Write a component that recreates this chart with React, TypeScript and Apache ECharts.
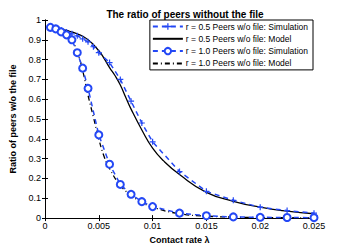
import React, { useEffect, useRef } from "react";
import * as echarts from "echarts";

const sim05X = [0.0005, 0.001, 0.0015, 0.002, 0.0025, 0.003, 0.0035, 0.004, 0.0045, 0.005, 0.006, 0.007, 0.008, 0.009, 0.01, 0.0125, 0.015, 0.0175, 0.02, 0.0225, 0.025];
const sim05Y = [0.962, 0.957, 0.95, 0.94, 0.93, 0.92, 0.905, 0.89, 0.865, 0.835, 0.785, 0.7, 0.59, 0.48, 0.385, 0.235, 0.135, 0.09, 0.055, 0.038, 0.025];

const mod05X = [0.0005, 0.001, 0.002, 0.003, 0.004, 0.005, 0.0055, 0.006, 0.0065, 0.007, 0.0075, 0.008, 0.009, 0.01, 0.011, 0.0125, 0.015, 0.0175, 0.02, 0.0225, 0.025];
const mod05Y = [0.962, 0.958, 0.947, 0.93, 0.9, 0.845, 0.805, 0.76, 0.72, 0.672, 0.61, 0.55, 0.445, 0.353, 0.29, 0.22, 0.13, 0.085, 0.055, 0.035, 0.022];

const sim10X = [0.0005, 0.001, 0.0015, 0.002, 0.0025, 0.003, 0.0035, 0.004, 0.005, 0.006, 0.007, 0.008, 0.009, 0.01, 0.0125, 0.015, 0.0175, 0.02, 0.0225, 0.025];
const sim10Y = [0.963, 0.955, 0.94, 0.925, 0.9, 0.835, 0.757, 0.655, 0.42, 0.272, 0.17, 0.12, 0.083, 0.058, 0.025, 0.012, 0.006, 0.004, 0.003, 0.002];

const mod10X = [0.0005, 0.001, 0.0015, 0.002, 0.0025, 0.003, 0.0035, 0.004, 0.0045, 0.005, 0.0055, 0.006, 0.007, 0.008, 0.009, 0.01, 0.0125, 0.015, 0.0175, 0.02, 0.025];
const mod10Y = [0.962, 0.955, 0.945, 0.93, 0.9, 0.84, 0.745, 0.62, 0.51, 0.4, 0.31, 0.25, 0.165, 0.115, 0.08, 0.055, 0.022, 0.01, 0.005, 0.003, 0.001];

const names = [
  "r = 0.5 Peers w/o file: Simulation",
  "r = 0.5 Peers w/o file: Model",
  "r = 1.0 Peers w/o file: Simulation",
  "r = 1.0 Peers w/o file: Model",
];

const BLUE = "#2448f5";
const FONT = "Liberation Sans";

const zip = (xs: number[], ys: number[]) => xs.map((x, i) => [x, ys[i]]);

export default function App() {
  const ref = useRef<HTMLDivElement>(null);
  useEffect(() => {
    if (!ref.current) return;
    const chart = echarts.init(ref.current, null, { renderer: "svg" });
    const axisCommon = {
      axisLine: { show: true, lineStyle: { color: "#000", width: 1 } },
      axisTick: { show: true, inside: true, length: 3, lineStyle: { color: "#000" } },
      splitLine: { show: false },
    };
    chart.setOption({
      animation: false,
      backgroundColor: "#fff",
      textStyle: { fontFamily: FONT },
      title: {
        text: "The ratio of peers without the file",
        left: 180,
        textAlign: "center",
        top: 4,
        textStyle: { fontSize: 10, fontWeight: "bold", color: "#000", fontFamily: FONT },
      },
      grid: { left: 45, right: 32, top: 20, bottom: 28 },
      legend: {
        data: names,
        orient: "vertical",
        right: 33,
        top: 20,
        align: "left",
        itemWidth: 30,
        itemHeight: 8,
        itemGap: 3.3,
        padding: [2, 5, 2, 2],
        backgroundColor: "#fff",
        borderColor: "#000",
        borderWidth: 1,
        borderRadius: 0,
        textStyle: { fontSize: 8.5, lineHeight: 9, color: "#000", fontFamily: FONT, padding: [0, 0, 0, -2] },
      },
      xAxis: [
        {
          type: "value",
          min: 0,
          max: 0.025,
          interval: 0.005,
          name: "Contact rate λ",
          nameLocation: "middle",
          nameGap: 14,
          nameTextStyle: { fontSize: 9, fontWeight: "bold", color: "#000", fontFamily: FONT },
          axisLabel: {
            fontSize: 9,
            color: "#000",
            margin: 3,
            fontFamily: FONT,
            formatter: (v: number) => String(+v.toFixed(4)),
          },
          ...axisCommon,
        },
        {
          type: "value",
          position: "top",
          min: 0,
          max: 0.025,
          interval: 0.005,
          axisLabel: { show: false },
          ...axisCommon,
        },
      ],
      yAxis: [
        {
          type: "value",
          min: 0,
          max: 1,
          interval: 0.1,
          name: "Ratio of peers w/o the file",
          nameLocation: "middle",
          nameGap: 20,
          nameTextStyle: { fontSize: 9, fontWeight: "bold", color: "#000", fontFamily: FONT },
          axisLabel: {
            fontSize: 9,
            color: "#000",
            margin: 4,
            fontFamily: FONT,
            formatter: (v: number) => String(+v.toFixed(1)),
          },
          ...axisCommon,
        },
        {
          type: "value",
          position: "right",
          min: 0,
          max: 1,
          interval: 0.1,
          axisLabel: { show: false },
          ...axisCommon,
        },
      ],
      series: [
        {
          name: names[0],
          type: "line",
          data: zip(sim05X, sim05Y),
          symbol: "path://M4,0H6V4H10V6H6V10H4V6H0V4H4Z",
          symbolSize: 6,
          itemStyle: { color: BLUE },
          lineStyle: { color: BLUE, width: 1.5, type: [5, 4] },
          z: 3,
        },
        {
          name: names[1],
          type: "line",
          data: zip(mod05X, mod05Y),
          smooth: true,
          symbol: "none",
          itemStyle: { color: "transparent" },
          lineStyle: { color: "#000", width: 1.3, type: "solid" },
          z: 2,
        },
        {
          name: names[2],
          type: "line",
          data: zip(sim10X, sim10Y),
          symbol: "emptyCircle",
          symbolSize: 7,
          itemStyle: { color: BLUE, borderColor: BLUE, borderWidth: 1.5 },
          lineStyle: { color: BLUE, width: 1.5, type: [5, 4] },
          z: 3,
        },
        {
          name: names[3],
          type: "line",
          data: zip(mod10X, mod10Y),
          smooth: true,
          symbol: "none",
          itemStyle: { color: "transparent" },
          lineStyle: { color: "#000", width: 1.3, type: [5, 3, 1, 3] },
          z: 2,
        },
      ],
    });
    return () => chart.dispose();
  }, []);
  return (
    <div
      ref={ref}
      style={{ position: "fixed", left: 0, top: 0, width: 346, height: 249, background: "#fff" }}
    />
  );
}
